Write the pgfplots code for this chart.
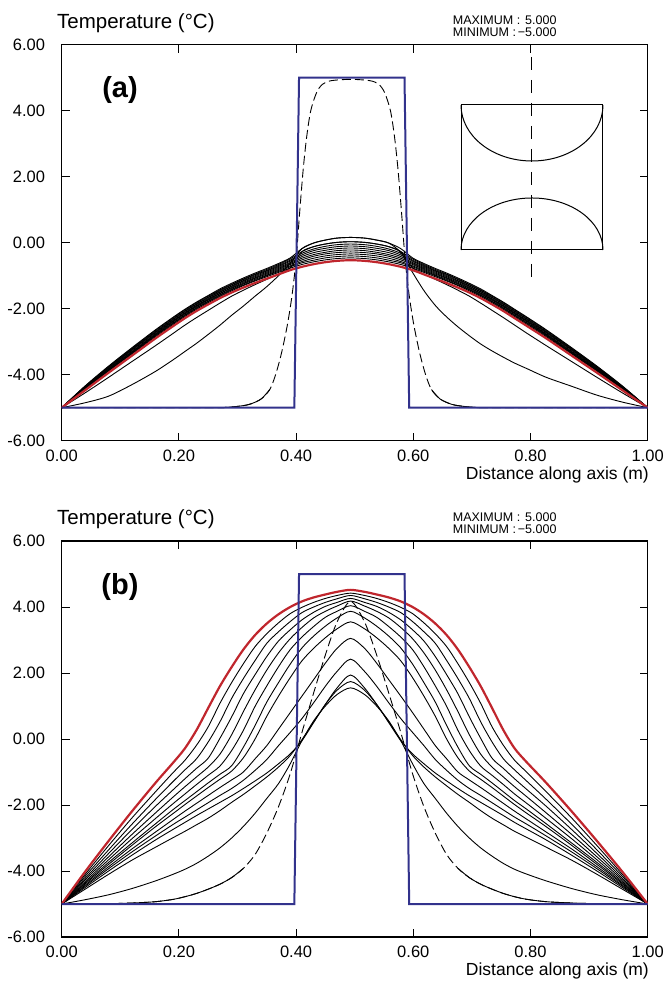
\documentclass[border=0pt]{standalone}
\usepackage{fontspec}
\setmainfont{Liberation Sans}
\usepackage{pgfplots}
\usepackage{pgfplotstable}
\pgfplotsset{compat=1.18}
\definecolor{myblue}{RGB}{50,50,140}
\definecolor{myred}{RGB}{192,38,45}
\newcommand\fs[1]{\fontsize{#1}{#1}\selectfont}

% Panel (a)
\pgfplotstableread{
x R B1 B2 B3 B4 B5 B6 B7 B8 B9 B10 E1 E2
0 -5 -5 -5 -5 -5 -5 -5 -5 -5 -5 -5 -5 -5
0.04 -4.47 -4.43 -4.42 -4.41 -4.40 -4.39 -4.38 -4.37 -4.36 -4.35 -4.34 -4.85 -4.55
0.08 -3.94 -3.89 -3.88 -3.86 -3.84 -3.83 -3.81 -3.79 -3.77 -3.76 -3.74 -4.65 -4.08
0.12 -3.42 -3.37 -3.35 -3.33 -3.31 -3.29 -3.26 -3.24 -3.22 -3.20 -3.18 -4.30 -3.60
0.16 -2.90 -2.85 -2.82 -2.80 -2.78 -2.76 -2.73 -2.71 -2.69 -2.66 -2.64 -3.90 -3.12
0.19 -2.53 -2.48 -2.45 -2.43 -2.40 -2.38 -2.36 -2.33 -2.31 -2.28 -2.26 -3.55 -2.75
0.21 -2.29 -2.24 -2.21 -2.19 -2.16 -2.14 -2.12 -2.09 -2.07 -2.04 -2.02 -3.30 -2.50
0.23 -2.07 -2.02 -1.99 -1.97 -1.94 -1.92 -1.90 -1.87 -1.85 -1.82 -1.80 -3.05 -2.27
0.25 -1.87 -1.82 -1.79 -1.77 -1.74 -1.72 -1.70 -1.67 -1.65 -1.62 -1.60 -2.78 -2.05
0.27 -1.68 -1.63 -1.60 -1.58 -1.55 -1.53 -1.50 -1.48 -1.45 -1.43 -1.40 -2.50 -1.83
0.29 -1.51 -1.46 -1.43 -1.41 -1.38 -1.36 -1.33 -1.31 -1.28 -1.26 -1.23 -2.20 -1.62
0.31 -1.36 -1.30 -1.28 -1.25 -1.23 -1.20 -1.17 -1.15 -1.12 -1.10 -1.07 -1.92 -1.44
0.33 -1.22 -1.16 -1.14 -1.11 -1.08 -1.06 -1.03 -1.00 -0.97 -0.95 -0.92 -1.62 -1.27
0.35 -1.09 -1.03 -1.00 -0.98 -0.95 -0.92 -0.89 -0.86 -0.84 -0.81 -0.78 -1.33 -1.11
0.37 -0.96 -0.90 -0.87 -0.84 -0.81 -0.78 -0.75 -0.72 -0.69 -0.66 -0.63 -1.00 -0.95
0.39 -0.83 -0.77 -0.73 -0.70 -0.66 -0.63 -0.60 -0.56 -0.53 -0.49 -0.46 -0.62 -0.76
0.41 -0.73 -0.66 -0.61 -0.57 -0.52 -0.47 -0.42 -0.37 -0.32 -0.27 -0.18 -0.18 -0.27
0.43 -0.65 -0.58 -0.53 -0.47 -0.41 -0.36 -0.30 -0.24 -0.19 -0.12 -0.01 -0.01 -0.12
0.45 -0.59 -0.52 -0.46 -0.40 -0.34 -0.29 -0.23 -0.17 -0.11 -0.04 0.08 0.08 -0.04
0.47 -0.55 -0.48 -0.42 -0.36 -0.30 -0.24 -0.18 -0.12 -0.06 0.01 0.14 0.14 0.01
0.493 -0.53 -0.46 -0.40 -0.34 -0.28 -0.22 -0.16 -0.10 -0.04 0.03 0.16 0.16 0.03
0.5167 -0.55 -0.48 -0.42 -0.36 -0.30 -0.24 -0.18 -0.12 -0.06 0.01 0.14 0.14 0.01
0.5374 -0.59 -0.52 -0.46 -0.40 -0.34 -0.29 -0.23 -0.17 -0.11 -0.04 0.08 0.08 -0.04
0.5580 -0.65 -0.58 -0.53 -0.47 -0.41 -0.36 -0.30 -0.24 -0.19 -0.12 -0.01 -0.01 -0.12
0.5786 -0.73 -0.66 -0.61 -0.57 -0.52 -0.47 -0.42 -0.37 -0.32 -0.27 -0.18 -0.30 -0.27
0.5987 -0.83 -0.77 -0.73 -0.70 -0.66 -0.63 -0.60 -0.56 -0.53 -0.49 -0.46 -0.90 -0.76
0.6181 -0.96 -0.90 -0.87 -0.84 -0.81 -0.78 -0.75 -0.72 -0.69 -0.66 -0.63 -1.45 -0.95
0.6375 -1.09 -1.03 -1.00 -0.98 -0.95 -0.92 -0.89 -0.86 -0.84 -0.81 -0.78 -1.90 -1.11
0.6569 -1.22 -1.16 -1.14 -1.11 -1.08 -1.06 -1.03 -1.00 -0.97 -0.95 -0.92 -2.25 -1.27
0.6762 -1.36 -1.30 -1.28 -1.25 -1.23 -1.20 -1.17 -1.15 -1.12 -1.10 -1.07 -2.55 -1.44
0.6956 -1.51 -1.46 -1.43 -1.41 -1.38 -1.36 -1.33 -1.31 -1.28 -1.26 -1.23 -2.82 -1.62
0.7150 -1.68 -1.63 -1.60 -1.58 -1.55 -1.53 -1.50 -1.48 -1.45 -1.43 -1.40 -3.07 -1.83
0.7344 -1.87 -1.82 -1.79 -1.77 -1.74 -1.72 -1.70 -1.67 -1.65 -1.62 -1.60 -3.28 -2.05
0.7537 -2.07 -2.02 -1.99 -1.97 -1.94 -1.92 -1.90 -1.87 -1.85 -1.82 -1.80 -3.47 -2.27
0.7731 -2.29 -2.24 -2.21 -2.19 -2.16 -2.14 -2.12 -2.09 -2.07 -2.04 -2.02 -3.65 -2.50
0.7944 -2.53 -2.48 -2.45 -2.43 -2.40 -2.38 -2.36 -2.33 -2.31 -2.28 -2.26 -3.82 -2.75
0.8269 -2.90 -2.85 -2.82 -2.80 -2.78 -2.76 -2.73 -2.71 -2.69 -2.66 -2.64 -4.08 -3.12
0.8701 -3.42 -3.37 -3.35 -3.33 -3.31 -3.29 -3.26 -3.24 -3.22 -3.20 -3.18 -4.35 -3.60
0.9134 -3.94 -3.89 -3.88 -3.86 -3.84 -3.83 -3.81 -3.79 -3.77 -3.76 -3.74 -4.62 -4.08
0.9567 -4.47 -4.43 -4.42 -4.41 -4.40 -4.39 -4.38 -4.37 -4.36 -4.35 -4.34 -4.83 -4.55
1 -5 -5 -5 -5 -5 -5 -5 -5 -5 -5 -5 -5 -5
}\tabA

% Panel (b)
\pgfplotstableread{
x R C12 C11 C10 C9 C8 C7 C6 C5 C4 C3 C2 C1 D
0 -5 -5 -5 -5 -5 -5 -5 -5 -5 -5 -5 -5 -5 -5
0.04 -4.02 -4.10 -4.16 -4.22 -4.27 -4.32 -4.36 -4.39 -4.43 -4.46 -4.50 -4.55 -4.87 -5.00
0.08 -3.09 -3.23 -3.36 -3.47 -3.57 -3.66 -3.74 -3.80 -3.87 -3.93 -4.00 -4.10 -4.72 -4.99
0.12 -2.19 -2.39 -2.58 -2.74 -2.89 -3.02 -3.15 -3.22 -3.33 -3.42 -3.52 -3.67 -4.53 -4.97
0.16 -1.33 -1.60 -1.83 -2.04 -2.24 -2.41 -2.57 -2.66 -2.82 -2.94 -3.06 -3.28 -4.30 -4.93
0.19 -0.72 -1.02 -1.29 -1.54 -1.76 -1.96 -2.14 -2.26 -2.44 -2.59 -2.74 -2.99 -4.10 -4.86
0.21 -0.29 -0.65 -0.94 -1.21 -1.45 -1.67 -1.87 -1.99 -2.19 -2.37 -2.53 -2.80 -3.95 -4.78
0.23 0.27 -0.19 -0.60 -0.89 -1.15 -1.38 -1.60 -1.73 -1.95 -2.15 -2.32 -2.60 -3.77 -4.68
0.25 0.94 0.37 -0.09 -0.58 -0.85 -1.10 -1.33 -1.47 -1.71 -1.93 -2.12 -2.40 -3.55 -4.55
0.27 1.60 1.08 0.52 0.02 -0.46 -0.82 -1.07 -1.22 -1.47 -1.71 -1.92 -2.17 -3.30 -4.40
0.29 2.18 1.71 1.23 0.67 0.13 -0.35 -0.81 -0.97 -1.24 -1.50 -1.72 -1.92 -3.00 -4.20
0.31 2.71 2.28 1.83 1.37 0.83 0.26 -0.25 -0.57 -1.00 -1.25 -1.50 -1.68 -2.65 -3.92
0.33 3.15 2.80 2.38 1.95 1.49 0.99 0.41 0.00 -0.60 -0.95 -1.27 -1.42 -2.25 -3.50
0.35 3.50 3.19 2.90 2.50 2.09 1.61 1.12 0.69 -0.20 -0.62 -1.03 -1.15 -1.80 -2.85
0.37 3.78 3.52 3.25 2.97 2.61 2.19 1.71 1.30 0.30 -0.20 -0.75 -0.85 -1.35 -2.05
0.39 4.00 3.80 3.56 3.31 3.04 2.71 2.27 1.86 0.80 0.20 -0.45 -0.50 -0.75 -1.05
0.41 4.17 3.99 3.83 3.61 3.38 3.09 2.76 2.37 1.30 0.62 -0.05 -0.02 -0.05 0.20
0.43 4.29 4.14 4.00 3.84 3.67 3.41 3.12 2.75 1.80 1.10 0.50 0.52 0.55 1.40
0.45 4.38 4.26 4.14 4.02 3.87 3.69 3.42 3.07 2.30 1.60 1.05 1.05 1.00 2.55
0.47 4.46 4.35 4.25 4.14 4.03 3.87 3.67 3.34 2.75 2.05 1.55 1.48 1.35 3.55
0.493 4.52 4.42 4.35 4.26 4.18 4.04 3.87 3.55 3.05 2.42 1.94 1.74 1.55 4.17
0.5167 4.46 4.35 4.25 4.14 4.03 3.87 3.67 3.34 2.75 2.05 1.55 1.48 1.35 3.55
0.5374 4.38 4.26 4.14 4.02 3.87 3.69 3.42 3.07 2.30 1.60 1.05 1.05 1.00 2.55
0.5580 4.29 4.14 4.00 3.84 3.67 3.41 3.12 2.75 1.80 1.10 0.50 0.52 0.55 1.40
0.5786 4.17 3.99 3.83 3.61 3.38 3.09 2.76 2.37 1.30 0.62 -0.05 -0.02 -0.05 0.20
0.5987 4.00 3.80 3.56 3.31 3.04 2.71 2.27 1.86 0.80 0.20 -0.45 -0.50 -0.75 -1.05
0.6181 3.78 3.52 3.25 2.97 2.61 2.19 1.71 1.30 0.30 -0.20 -0.75 -0.85 -1.35 -2.05
0.6375 3.50 3.19 2.90 2.50 2.09 1.61 1.12 0.69 -0.20 -0.62 -1.03 -1.15 -1.80 -2.85
0.6569 3.15 2.80 2.38 1.95 1.49 0.99 0.41 0.00 -0.60 -0.95 -1.27 -1.42 -2.25 -3.50
0.6762 2.71 2.28 1.83 1.37 0.83 0.26 -0.25 -0.57 -1.00 -1.25 -1.50 -1.68 -2.65 -3.92
0.6956 2.18 1.71 1.23 0.67 0.13 -0.35 -0.81 -0.97 -1.24 -1.50 -1.72 -1.92 -3.00 -4.20
0.7150 1.60 1.08 0.52 0.02 -0.46 -0.82 -1.07 -1.22 -1.47 -1.71 -1.92 -2.17 -3.30 -4.40
0.7344 0.94 0.37 -0.09 -0.58 -0.85 -1.10 -1.33 -1.47 -1.71 -1.93 -2.12 -2.40 -3.55 -4.55
0.7537 0.27 -0.19 -0.60 -0.89 -1.15 -1.38 -1.60 -1.73 -1.95 -2.15 -2.32 -2.60 -3.77 -4.68
0.7731 -0.29 -0.65 -0.94 -1.21 -1.45 -1.67 -1.87 -1.99 -2.19 -2.37 -2.53 -2.80 -3.95 -4.78
0.7944 -0.72 -1.02 -1.29 -1.54 -1.76 -1.96 -2.14 -2.26 -2.44 -2.59 -2.74 -2.99 -4.10 -4.86
0.8269 -1.33 -1.60 -1.83 -2.04 -2.24 -2.41 -2.57 -2.66 -2.82 -2.94 -3.06 -3.28 -4.30 -4.93
0.8701 -2.19 -2.39 -2.58 -2.74 -2.89 -3.02 -3.15 -3.22 -3.33 -3.42 -3.52 -3.67 -4.53 -4.97
0.9134 -3.09 -3.23 -3.36 -3.47 -3.57 -3.66 -3.74 -3.80 -3.87 -3.93 -4.00 -4.10 -4.72 -4.99
0.9567 -4.02 -4.10 -4.16 -4.22 -4.27 -4.32 -4.36 -4.39 -4.43 -4.46 -4.50 -4.55 -4.87 -5.00
1 -5 -5 -5 -5 -5 -5 -5 -5 -5 -5 -5 -5 -5 -5
}\tabB

\pgfplotsset{
  panel/.style={
    scale only axis, width=586pt, height=396pt, anchor=north west,
    xmin=0, xmax=1, ymin=-6, ymax=6,
    axis line style={line width=1.1pt},
    tick style={black, line width=0.9pt},
    tick align=inside, tick pos=both, major tick length=8pt,
    xtick={0,0.2,0.4,0.6,0.8,1},
    xticklabels={0.00,0.20,0.40,0.60,0.80,1.00},
    ytick={-6,-4,-2,0,2,4,6},
    yticklabels={-6.00,-4.00,-2.00,0.00,2.00,4.00,6.00},
    xticklabel style={inner sep=0pt, yshift=-9pt, font=\fs{16.5}},
    yticklabel style={inner sep=0pt, xshift=-16.5pt, font=\fs{16.5}},
  },
  blk/.style={black, line width=0.9pt, smooth, tension=0.5},
  dsh/.style={black, line width=0.9pt, smooth, tension=0.5, dash pattern=on 9pt off 4pt},
  redc/.style={myred, line width=2.2pt, smooth, tension=0.5},
  bluec/.style={myblue, line width=2pt, sharp plot},
}

\begin{document}
\begin{tikzpicture}
\path[use as bounding box] (0pt,0pt) rectangle (665pt,-981pt);

% ---------- Panel (a) ----------
\begin{axis}[panel, at={(61.7pt,-44.7pt)}]
\pgfplotsinvokeforeach{B1,B2,B3,B4,B5,B6,B7,B8,B9,B10,E1,E2}{
  \addplot[blk] table[x=x, y=#1] {\tabA};
}
\addplot[dsh] coordinates {(0,-5) (0.25,-5) (0.28,-4.99) (0.30,-4.96) (0.32,-4.90) (0.34,-4.74) (0.355,-4.45) (0.365,-4.0) (0.375,-3.35) (0.385,-2.5) (0.393,-1.6) (0.40,-0.5) (0.406,0.9) (0.412,2.2) (0.418,3.2) (0.425,4.0) (0.435,4.55) (0.445,4.8) (0.46,4.91) (0.493,4.95) (0.526,4.91) (0.541,4.8) (0.551,4.55) (0.561,4.0) (0.568,3.2) (0.574,2.2) (0.58,0.9) (0.586,-0.5) (0.593,-1.6) (0.601,-2.5) (0.611,-3.35) (0.621,-4.0) (0.631,-4.45) (0.646,-4.74) (0.666,-4.9) (0.686,-4.96) (0.706,-4.99) (0.736,-5) (1,-5)};
\addplot[blk] coordinates {(0,-5) (0.25,-5) (0.28,-4.99) (0.30,-4.96) (0.32,-4.90) (0.34,-4.74) (0.355,-4.45)};
\addplot[blk] coordinates {(0.631,-4.45) (0.646,-4.74) (0.666,-4.9) (0.686,-4.96) (0.706,-4.99) (0.736,-5) (1,-5)};
\addplot[redc] table[x=x, y=R] {\tabA};
\addplot[bluec] coordinates {(0,-5) (0.397,-5) (0.405,5) (0.585,5) (0.593,-5) (1,-5)};
% inset sketch
\draw[line width=1pt] (axis cs:0.6814,4.173) rectangle (axis cs:0.9237,-0.221);
\draw[line width=1pt] (axis cs:0.6814,4.173) .. controls (axis cs:0.6814,3.236) and (axis cs:0.7356,2.476) .. (axis cs:0.8025,2.476)
   .. controls (axis cs:0.8695,2.476) and (axis cs:0.9237,3.236) .. (axis cs:0.9237,4.173);
\draw[line width=1pt] (axis cs:0.6814,-0.221) .. controls (axis cs:0.6814,0.649) and (axis cs:0.7356,1.355) .. (axis cs:0.8025,1.355)
   .. controls (axis cs:0.8695,1.355) and (axis cs:0.9237,0.649) .. (axis cs:0.9237,-0.221);
\draw[line width=1pt, dash pattern=on 13pt off 10pt] (axis cs:0.801,5.63) -- (axis cs:0.801,-1.07);
\end{axis}

% ---------- Panel (b) ----------
\begin{axis}[panel, at={(61.7pt,-541pt)}]
\pgfplotsinvokeforeach{C12,C11,C10,C9,C8,C7,C6,C5,C4,C3,C2,C1}{
  \addplot[blk] table[x=x, y=#1] {\tabB};
}
\addplot[dsh] table[x=x, y=D] {\tabB};
\addplot[blk, restrict x to domain=0:0.315] table[x=x, y=D] {\tabB};
\addplot[blk, restrict x to domain=0.67:1] table[x=x, y=D] {\tabB};
\addplot[redc] table[x=x, y=R] {\tabB};
\addplot[bluec] coordinates {(0,-5) (0.397,-5) (0.405,5) (0.585,5) (0.593,-5) (1,-5)};
\end{axis}

% ---------- Texts ----------
\node[anchor=base west, inner sep=0pt, font=\fs{20.5}] at (57pt,-28.5pt) {Temperature (°C)};
\node[anchor=base west, inner sep=0pt, font=\fs{20.5}] at (57pt,-524.8pt) {Temperature (°C)};

\node[anchor=base west, inner sep=0pt, font=\fs{12.5}] at (452.7pt,-25pt) {MAXIMUM :};
\node[anchor=base east, inner sep=0pt, font=\fs{12.5}] at (556.7pt,-25pt) {5.000};
\node[anchor=base west, inner sep=0pt, font=\fs{12.5}] at (452.7pt,-37pt) {MINIMUM :};
\node[anchor=base east, inner sep=0pt, font=\fs{12.5}] at (556.7pt,-37pt) {−5.000};
\node[anchor=base west, inner sep=0pt, font=\fs{12.5}] at (452.7pt,-521.3pt) {MAXIMUM :};
\node[anchor=base east, inner sep=0pt, font=\fs{12.5}] at (556.7pt,-521.3pt) {5.000};
\node[anchor=base west, inner sep=0pt, font=\fs{12.5}] at (452.7pt,-533.3pt) {MINIMUM :};
\node[anchor=base east, inner sep=0pt, font=\fs{12.5}] at (556.7pt,-533.3pt) {−5.000};

\node[anchor=base east, inner sep=0pt, font=\fs{17.5}] at (649pt,-479.5pt) {Distance along axis (m)};
\node[anchor=base east, inner sep=0pt, font=\fs{17.5}] at (649pt,-975.8pt) {Distance along axis (m)};

\node[inner sep=0pt, font=\fs{29}\bfseries] at (120pt,-90pt) {(a)};
\node[inner sep=0pt, font=\fs{29}\bfseries] at (120pt,-587pt) {(b)};
\end{tikzpicture}
\end{document}
